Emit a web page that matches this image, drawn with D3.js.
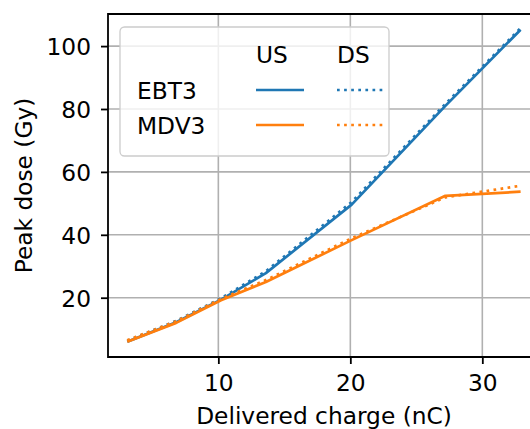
<!DOCTYPE html>
<html>
<head>
<meta charset="utf-8">
<script src="https://cdn.jsdelivr.net/npm/d3@7"></script>
<style>
    body { margin: 0; background: #fff; }
    svg text { font-family: "DejaVu Sans", sans-serif; fill: #000; }
</style>
</head>
<body>
<svg id="chart" width="530" height="429"></svg>
<script>
// delivered charge (nC)
var charge = [3.1, 6.8, 10.2, 13.6, 20.1, 27.2, 32.9];

// peak dose (Gy), US = upstream, DS = downstream
var ebt3US = [6.0, 12.2, 19.4, 27.8, 49.6, 81.0, 105.2];
var ebt3DS = [6.3, 12.6, 19.8, 28.4, 50.4, 81.6, 105.7];
var mdv3US = [6.0, 12.0, 19.2, 25.0, 38.3, 52.4, 53.7];
var mdv3DS = [6.5, 12.5, 19.6, 25.6, 38.9, 51.9, 55.6];

var xTicks = [10, 20, 30];
var yTicks = [20, 40, 60, 80, 100];

var seriesNames = ["EBT3", "MDV3"];
var colNames = ["US", "DS"];

var blue = "#1f77b4", orange = "#ff7f0e";

var margins = {left: 108, top: 14, right: 540, bottom: 357};
var fontSize = 23.3;
var lw = 2.7;

var svg = d3.select("#chart");

var xScale = d3.scaleLinear().domain([1.64, 34.37]).range([margins.left, margins.right]);
var yScale = d3.scaleLinear().domain([1.15, 110.2]).range([margins.bottom, margins.top]);

var series = [
    {vals: ebt3US, color: blue, dash: null},
    {vals: ebt3DS, color: blue, dash: "2.7,4.4"},
    {vals: mdv3US, color: orange, dash: null},
    {vals: mdv3DS, color: orange, dash: "2.7,4.4"}
];

//grid
svg.append("g").selectAll("line").data(xTicks).join("line")
    .attr("x1", d => xScale(d)).attr("x2", d => xScale(d))
    .attr("y1", margins.top).attr("y2", margins.bottom)
    .attr("stroke", "#b0b0b0").attr("stroke-width", 1.6);

svg.append("g").selectAll("line").data(yTicks).join("line")
    .attr("x1", margins.left).attr("x2", margins.right)
    .attr("y1", d => yScale(d)).attr("y2", d => yScale(d))
    .attr("stroke", "#b0b0b0").attr("stroke-width", 1.6);

//lines
var line = d3.line()
    .x((d, i) => xScale(charge[i]))
    .y(d => yScale(d));

svg.append("g").selectAll("path").data(series).join("path")
    .attr("fill", "none")
    .attr("stroke", d => d.color)
    .attr("stroke-width", lw)
    .attr("stroke-dasharray", d => d.dash)
    .attr("stroke-linejoin", "round")
    .attr("d", d => line(d.vals));

//axes
var xAxis = svg.append("g")
    .attr("transform", "translate(0," + margins.bottom + ")")
    .call(d3.axisBottom(xScale).tickValues(xTicks).tickSize(7).tickPadding(10).tickSizeOuter(0));

var yAxis = svg.append("g")
    .attr("transform", "translate(" + margins.left + ",0)")
    .call(d3.axisLeft(yScale).tickValues(yTicks).tickSize(7).tickPadding(10).tickSizeOuter(0));

[xAxis, yAxis].forEach(function(ax) {
    ax.select(".domain").remove();
    ax.selectAll(".tick line").attr("stroke", "#000").attr("stroke-width", 1.8);
    ax.selectAll(".tick text")
        .style("font-family", "DejaVu Sans")
        .style("font-size", fontSize + "px")
        .attr("fill", "#000");
});
yAxis.selectAll(".tick text").attr("dy", "0.36em");

//spines
svg.append("path")
    .attr("fill", "none")
    .attr("stroke", "#000")
    .attr("stroke-width", 1.8)
    .attr("d", "M" + margins.left + "," + margins.bottom + "V" + margins.top + "H" + margins.right + "V" + margins.bottom + "Z");

//axis labels
svg.append("text")
    .attr("x", (margins.left + margins.right) / 2)
    .attr("y", 424)
    .attr("text-anchor", "middle")
    .style("font-size", fontSize + "px")
    .text("Delivered charge (nC)");

svg.append("text")
    .attr("text-anchor", "middle")
    .attr("transform", "translate(32," + ((margins.top + margins.bottom) / 2) + ") rotate(-90)")
    .style("font-size", fontSize + "px")
    .text("Peak dose (Gy)");

//legend
var leg = svg.append("g");
leg.append("rect")
    .attr("x", 120).attr("y", 27)
    .attr("width", 269).attr("height", 129)
    .attr("rx", 4.5)
    .attr("fill", "#fff").attr("fill-opacity", 0.8)
    .attr("stroke", "#cccccc").attr("stroke-width", 1.3);

var colX = [256, 337];
var rowY = [90, 125];

leg.selectAll(".colName").data(colNames).join("text")
    .attr("class", "colName")
    .attr("x", (d, i) => colX[i])
    .attr("y", 63)
    .style("font-size", fontSize + "px")
    .text(d => d);

leg.selectAll(".rowName").data(seriesNames).join("text")
    .attr("class", "rowName")
    .attr("x", 137)
    .attr("y", (d, i) => rowY[i] + 8.5)
    .style("font-size", fontSize + "px")
    .text(d => d);

leg.selectAll(".key").data(series).join("line")
    .attr("class", "key")
    .attr("x1", (d, i) => colX[i % 2])
    .attr("x2", (d, i) => colX[i % 2] + 48)
    .attr("y1", (d, i) => rowY[Math.floor(i / 2)])
    .attr("y2", (d, i) => rowY[Math.floor(i / 2)])
    .attr("stroke", d => d.color)
    .attr("stroke-width", lw)
    .attr("stroke-dasharray", d => d.dash);
</script>
</body>
</html>
